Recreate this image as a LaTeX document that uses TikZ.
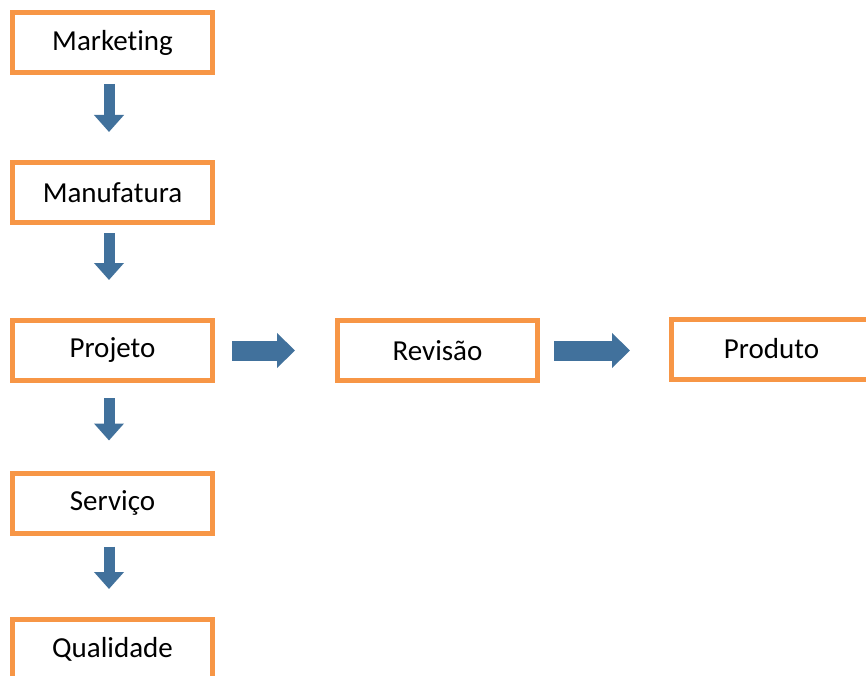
\documentclass[tikz,border=0pt]{standalone}
\usepackage{fontspec}
\setmainfont{Carlito}[Ligatures=NoCommon]
\usepackage{tikz}
\usetikzlibrary{arrows.meta,positioning}
\definecolor{boxorange}{HTML}{F79646}
\definecolor{flowblue}{HTML}{41719C}

\begin{document}
\begin{tikzpicture}[box/.style={draw=boxorange, line width=5pt, minimum width=200pt, minimum height=60pt, inner sep=0pt, font=\fontsize{29}{34}\selectfont, text=black}, vflow/.style={color=flowblue, line width=11pt, -{Triangle[width=29pt,length=17pt]}}, hflow/.style={color=flowblue, line width=20pt, -{Triangle[width=34pt,length=18pt]}}]
		\useasboundingbox (0pt, 0pt) rectangle (866pt, -676pt);
		\draw (112.5pt, -42.5pt)node[box](mark){Marketing};
		\draw (112.5pt, -192.5pt)node[box](manu){Manufatura};
		\draw (112.5pt, -350.5pt)node[box](proj){Projeto};
		\draw (112.5pt, -503.0pt)node[box](serv){Serviço};
		\draw (112.5pt, -649.5pt)node[box](qual){Qualidade};
		\draw (437.5pt, -350.5pt)node[box](rev){Revisão};
		\draw (771.5pt, -349.0pt)node[box](prod){Produto};
		\draw[vflow, shorten <=9pt, shorten >=28pt] ([xshift=-3.5pt]mark.south) -- ([xshift=-3.5pt]manu.north);
		\draw[vflow, shorten <=8pt, shorten >=38pt] ([xshift=-3.5pt]manu.south) -- ([xshift=-3.5pt]proj.north);
		\draw[vflow, shorten <=15pt, shorten >=30pt] ([xshift=-3.5pt]proj.south) -- ([xshift=-3.5pt]serv.north);
		\draw[vflow, shorten <=11pt, shorten >=28pt] ([xshift=-3.5pt]serv.south) -- ([xshift=-3.5pt]qual.north);
		\draw[hflow, shorten <=17pt, shorten >=40pt] (proj) -- (rev);
		\draw[hflow, shorten <=14pt, shorten >=39pt] (rev) -- (prod.west |- rev);
		\end{tikzpicture}
\end{document}
